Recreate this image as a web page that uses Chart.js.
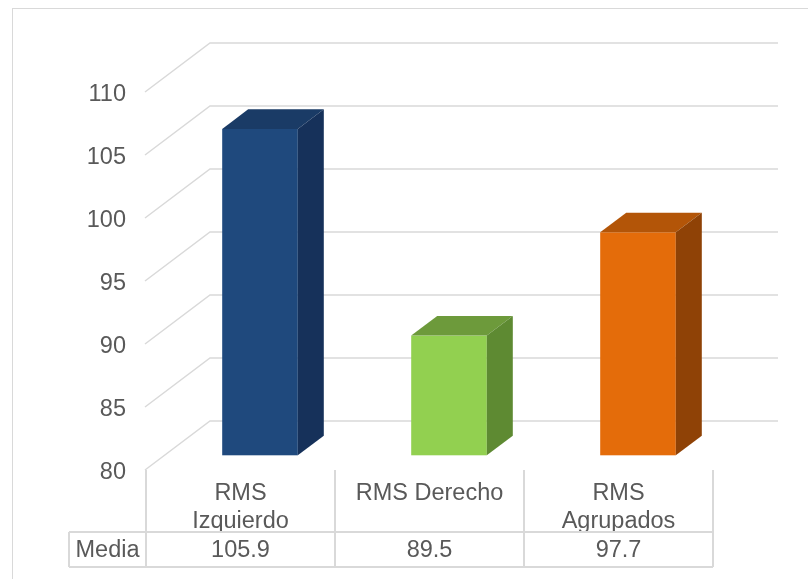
<!DOCTYPE html>
<html lang="es">
<head>
<meta charset="utf-8">
<title>RMS - Media</title>
<script src="https://cdn.jsdelivr.net/npm/chart.js@4"></script>
<style>
  html, body { margin: 0; padding: 0; background: #fff; }
  canvas { display: block; }
</style>
</head>
<body>
<canvas id="graficoRms" width="808" height="579"></canvas>
<script>
const categorias = [["RMS", "Izquierdo"], ["RMS Derecho"], ["RMS", "Agrupados"]];
const medias = [105.9, 89.5, 97.7];
const etiquetaFila = "Media";
const ticksY = [80, 85, 90, 95, 100, 105, 110];

const coloresFrente = ["#1f497d", "#92d050", "#e46c0a"];
const coloresTapa = ["#1a3b66", "#6d9a3b", "#b35508"];
const coloresLado = ["#16315a", "#5e8a32", "#8f4206"];

const GRIS = "#d9d9d9";
const TEXTO = "#595959";
const FUENTE = "'Liberation Sans', Arial, sans-serif";

// profundidad del piso y posicion de las barras dentro de ella
const PROF_X = 65, PROF_Y = -49;
const BARRA_INI = 0.3, BARRA_FIN = 0.7;


/* =========================
   DIBUJO AUXILIAR
=========================*/
function poligono(ctx, color, puntos){
  ctx.fillStyle = color;
  ctx.beginPath();
  puntos.forEach(([px, py], i) => i ? ctx.lineTo(px, py) : ctx.moveTo(px, py));
  ctx.closePath();
  ctx.fill();
}

function dibujarBarras(chart, meta){
  const ctx = chart.ctx;
  const y = chart.scales.y;
  const piso = y.getPixelForValue(y.min);
  const dx0 = PROF_X * BARRA_INI, dy0 = PROF_Y * BARRA_INI;
  const dx = PROF_X * (BARRA_FIN - BARRA_INI), dy = PROF_Y * (BARRA_FIN - BARRA_INI);

  ctx.save();
  meta.data.forEach((bar, i) => {
    const {x, y: tope, width} = bar.getProps(["x", "y", "width"], true);
    const izq = x - width / 2 + dx0, der = x + width / 2 + dx0;
    const arriba = tope + dy0, abajo = piso + dy0;

    ctx.fillStyle = coloresFrente[i];
    ctx.fillRect(izq, arriba, der - izq, abajo - arriba);
    poligono(ctx, coloresTapa[i], [[izq, arriba], [izq + dx, arriba + dy], [der + dx, arriba + dy], [der, arriba]]);
    poligono(ctx, coloresLado[i], [[der, arriba], [der + dx, arriba + dy], [der + dx, abajo + dy], [der, abajo]]);
  });
  ctx.restore();
}

function dibujarTabla(chart){
  const {ctx, chartArea: a, scales: {x}} = chart;
  const ancho = (a.right - a.left) / categorias.length;
  const filaTop = a.bottom + 62, filaBottom = a.bottom + 97;
  const izqMedia = a.left - 77;

  ctx.save();
  ctx.strokeStyle = GRIS;
  ctx.lineWidth = 2;
  ctx.beginPath();
  for (let i = 0; i <= categorias.length; i++) {
    const px = a.left + i * ancho;
    ctx.moveTo(px, a.bottom);
    ctx.lineTo(px, filaBottom);
  }
  ctx.moveTo(izqMedia, filaTop);
  ctx.lineTo(a.right, filaTop);
  ctx.moveTo(izqMedia, filaBottom);
  ctx.lineTo(a.right, filaBottom);
  ctx.moveTo(izqMedia, filaTop);
  ctx.lineTo(izqMedia, filaBottom);
  ctx.stroke();

  ctx.fillStyle = TEXTO;
  ctx.font = "23.5px " + FUENTE;
  ctx.textAlign = "center";
  ctx.textBaseline = "middle";
  const yTexto = (filaTop + filaBottom) / 2 + 1;
  ctx.fillText(etiquetaFila, (izqMedia + a.left) / 2, yTexto);
  medias.forEach((v, i) => {
    ctx.fillText(v.toFixed(1), x.getPixelForValue(i), yTexto);
  });
  ctx.restore();
}


/* =========================
   PLUGIN 3D
=========================*/
const efecto3d = {
  id: "efecto3d",
  beforeDraw(chart){
    const ctx = chart.ctx;
    ctx.save();
    ctx.strokeStyle = GRIS;
    ctx.lineWidth = 1;
    ctx.strokeRect(12.5, 8.5, chart.width, chart.height);
    ctx.restore();
  },
  beforeDatasetsDraw(chart){
    const {ctx, chartArea: a, scales: {y}} = chart;
    ctx.save();
    ctx.strokeStyle = GRIS;
    ctx.lineWidth = 1.5;
    ticksY.forEach(v => {
      const py = y.getPixelForValue(v);
      ctx.beginPath();
      ctx.moveTo(a.left - 1, py);
      ctx.lineTo(a.left - 1 + PROF_X, py + PROF_Y);
      ctx.lineTo(a.right + PROF_X, py + PROF_Y);
      ctx.stroke();
    });
    ctx.restore();
  },
  beforeDatasetDraw(chart, args){
    dibujarBarras(chart, args.meta);
    return false;
  },
  afterDraw(chart){
    dibujarTabla(chart);
  }
};


/* =========================
   GRAFICO
=========================*/
new Chart(document.getElementById("graficoRms"), {
  type: "bar",
  data: {
    labels: categorias,
    datasets: [{
      label: etiquetaFila,
      data: medias,
      backgroundColor: coloresFrente,
      categoryPercentage: 1,
      barPercentage: 0.4
    }]
  },
  options: {
    responsive: false,
    animation: false,
    layout: { padding: { left: 0, right: 95, top: 92, bottom: 0 } },
    plugins: { legend: { display: false }, tooltip: { enabled: false } },
    scales: {
      y: {
        min: 80,
        max: 110,
        afterFit(scale){ scale.width = 146; },
        afterBuildTicks(scale){ scale.ticks = ticksY.map(v => ({ value: v })); },
        grid: { display: false, drawTicks: false },
        border: { display: false },
        ticks: { color: TEXTO, padding: 20, labelOffset: 3, font: { family: FUENTE, size: 23.5 } }
      },
      x: {
        afterFit(scale){ scale.height = 109; },
        grid: { display: false, drawTicks: false },
        border: { display: false },
        ticks: { color: TEXTO, padding: 9, maxRotation: 0, font: { family: FUENTE, size: 23.5, lineHeight: 1.2 } }
      }
    }
  },
  plugins: [efecto3d]
});
</script>
</body>
</html>
